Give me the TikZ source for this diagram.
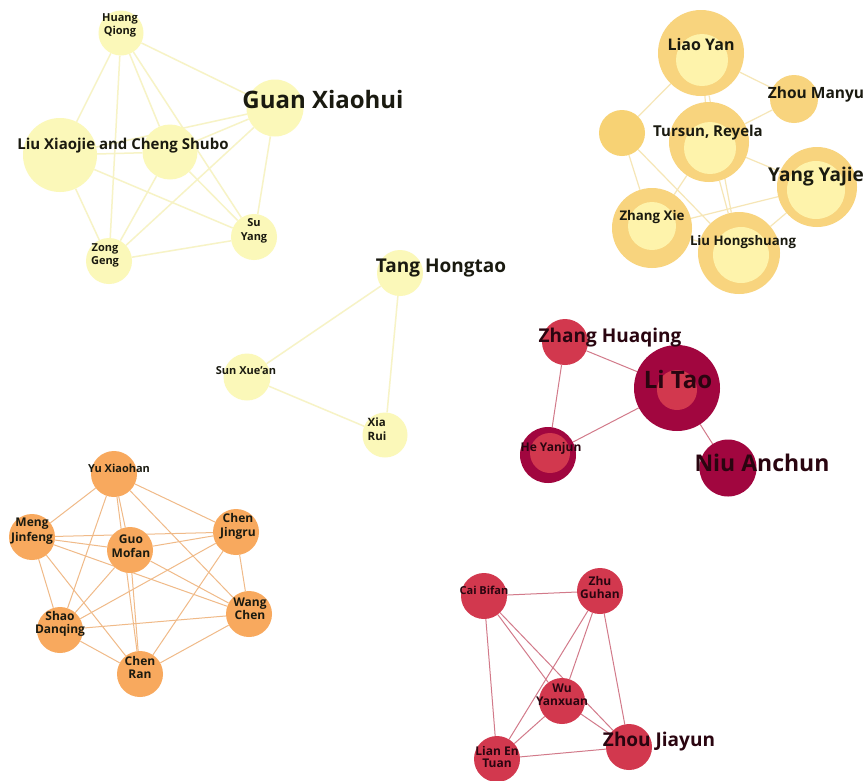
\documentclass[tikz,border=0pt]{standalone}
\usepackage{fontspec}
\setmainfont{Open Sans}
\usetikzlibrary{backgrounds}
\definecolor{paleY}{HTML}{FBF8B9}
\definecolor{edgeY}{HTML}{F7F3C6}
\definecolor{goldO}{HTML}{F8D47E}
\definecolor{goldI}{HTML}{FEF3AB}
\definecolor{goldU}{HTML}{F7D274}
\definecolor{edgeG}{HTML}{F6E6B6}
\definecolor{orangeN}{HTML}{F8A95E}
\definecolor{edgeO}{HTML}{F0BA88}
\definecolor{redN}{HTML}{D2384E}
\definecolor{crimN}{HTML}{A1063F}
\definecolor{edgeR}{HTML}{D27A8A}
\definecolor{txt}{HTML}{1A1A10}
\definecolor{txtR}{HTML}{2A0510}
\tikzset{
  nodedisc/.style={circle, inner sep=0pt, draw=none, minimum size=#1},
  paledisc/.style={nodedisc=#1, fill=paleY},
  golddisc/.style={nodedisc=#1, fill=goldO},
  goldinner/.style={nodedisc=#1, fill=goldI},
  orangedisc/.style={nodedisc=#1, fill=orangeN},
  reddisc/.style={nodedisc=#1, fill=redN},
  crimdisc/.style={nodedisc=#1, fill=crimN},
  lab/.style n args={2}{font=\bfseries\fontsize{#1}{#2}\selectfont, text=txt, align=center, inner sep=0pt},
  rlab/.style n args={2}{lab={#1}{#2}, text=txtR},
  yedge/.style={draw=edgeY, line width=1.5pt},
  gedge/.style={draw=edgeG, line width=1.2pt},
  oedge/.style={draw=edgeO, line width=1pt},
  redge/.style={draw=edgeR, line width=1pt},
}
\begin{document}
\begin{tikzpicture}[x=1pt,y=-1pt]
\useasboundingbox (0,0) rectangle (866,780);
% ---------- top-left cluster ----------
\node[paledisc=45] (hq) at (121,33) {};
\node[paledisc=57] (gx) at (275,108) {};
\node[paledisc=74] (lx) at (60,155) {};
\node[paledisc=55] (cs) at (170,152) {};
\node[paledisc=46] (sy) at (254,237) {};
\node[paledisc=46] (zg) at (109,261) {};
% ---------- middle cluster ----------
\node[paledisc=46] (th) at (400,273) {};
\node[paledisc=47] (sx) at (247,377) {};
\node[paledisc=45] (xr) at (385,435) {};
% ---------- top-right cluster ----------
\node[golddisc=86] (ly) at (701,53) {};
\node[goldinner=52] (lyi) at (702,60) {};
\node[golddisc=48] (zm) at (794,99) {};
\node[nodedisc=46, fill=goldU] (un) at (622,133) {};
\node[golddisc=80] (tr) at (709,142) {};
\node[goldinner=52] (tri) at (710,148) {};
\node[golddisc=80] (yy) at (817,187) {};
\node[goldinner=58] (yyi) at (816,190) {};
\node[golddisc=80] (zx) at (652,228) {};
\node[goldinner=48] (zxi) at (652,226) {};
\node[golddisc=82] (lh) at (739,253) {};
\node[goldinner=56] (lhi) at (741,255) {};
% ---------- Li Tao cluster ----------
\node[reddisc=46] (zh) at (565,342) {};
\node[crimdisc=86] (lt) at (677,388) {};
\node[reddisc=40] (lti) at (677,390) {};
\node[crimdisc=56] (hy) at (548,455) {};
\node[reddisc=40] (hyi) at (550,453) {};
\node[crimdisc=57] (na) at (728,468) {};
% ---------- orange cluster ----------
\node[orangedisc=46] (yx) at (114,474) {};
\node[orangedisc=46] (mj) at (32,537) {};
\node[orangedisc=46] (gm) at (130,550) {};
\node[orangedisc=46] (cj) at (236,532) {};
\node[orangedisc=46] (wc) at (249,614) {};
\node[orangedisc=46] (sd) at (60,630) {};
\node[orangedisc=46] (cr) at (140,674) {};
% ---------- bottom red cluster ----------
\node[reddisc=46] (cb) at (484,596) {};
\node[reddisc=46] (zu) at (600,591) {};
\node[reddisc=46] (wy) at (562,701) {};
\node[reddisc=46] (zj) at (629,747) {};
\node[reddisc=46] (le) at (497,759) {};
% ---------- edges ----------
\begin{pgfonlayer}{background}
\fill[white] (0,0) rectangle (866,780);
\draw[yedge] (hq) -- (lx); \draw[yedge] (hq) -- (zg); \draw[yedge] (hq) -- (cs);
\draw[yedge] (hq) -- (sy); \draw[yedge] (hq) -- (gx);
\draw[yedge] (gx) -- (lx); \draw[yedge] (gx) -- (cs); \draw[yedge] (gx) -- (zg);
\draw[yedge] (gx) -- (sy);
\draw[yedge] (lx) -- (cs); \draw[yedge] (lx) -- (zg); \draw[yedge] (lx) -- (sy);
\draw[yedge] (cs) -- (zg); \draw[yedge] (cs) -- (sy); \draw[yedge] (zg) -- (sy);
\draw[yedge] (th) -- (sx); \draw[yedge] (th) -- (xr); \draw[yedge] (sx) -- (xr);
\draw[gedge] (ly) -- (un); \draw[gedge] (ly) -- (zm); \draw[gedge] (ly) -- (tr);
\draw[gedge] (ly) -- (lh); \draw[gedge] (tr) -- (zm); \draw[gedge] (un) -- (zx);
\draw[gedge] (un) -- (lh); \draw[gedge] (tr) -- (zx); \draw[gedge] (tr) -- (lh);
\draw[gedge] (tr) -- (yy); \draw[gedge] (zx) -- (yy); \draw[gedge] (zx) -- (lh);
\draw[gedge] (lh) -- (yy);
\draw[redge] (zh) -- (lt); \draw[redge] (zh) -- (hy); \draw[redge] (hy) -- (lt);
\draw[redge] (lt) -- (na);
\draw[oedge] (yx) -- (mj); \draw[oedge] (yx) -- (sd); \draw[oedge] (yx) -- (gm);
\draw[oedge] (yx) -- (cr); \draw[oedge] (yx) -- (cj); \draw[oedge] (yx) -- (wc);
\draw[oedge] (mj) -- (gm); \draw[oedge] (mj) -- (cj); \draw[oedge] (mj) -- (wc);
\draw[oedge] (mj) -- (sd); \draw[oedge] (mj) -- (cr);
\draw[oedge] (gm) -- (cj); \draw[oedge] (gm) -- (sd); \draw[oedge] (gm) -- (wc);
\draw[oedge] (gm) -- (cr);
\draw[oedge] (cj) -- (sd); \draw[oedge] (cj) -- (cr); \draw[oedge] (cj) -- (wc);
\draw[oedge] (sd) -- (wc); \draw[oedge] (sd) -- (cr); \draw[oedge] (wc) -- (cr);
\draw[redge] (cb) -- (zu); \draw[redge] (cb) -- (le); \draw[redge] (cb) -- (wy);
\draw[redge] (cb) -- (zj); \draw[redge] (zu) -- (wy); \draw[redge] (zu) -- (le);
\draw[redge] (zu) -- (zj); \draw[redge] (wy) -- (le); \draw[redge] (wy) -- (zj);
\draw[redge] (le) -- (zj);
\end{pgfonlayer}
% ---------- labels ----------
\node[lab={11}{13}] (hql) at (120,25) {Huang\\Qiong};
\node[lab={24}{28}] (gxl) at (323,99) {Guan Xiaohui};
\node[lab={15}{18}] (lxl) at (123,146) {Liu Xiaojie and Cheng Shubo};
\node[lab={11}{14}] (syl) at (254,231) {Su\\Yang};
\node[lab={11}{13}] (zgl) at (105,255) {Zong\\Geng};
\node[lab={19}{22}] (thl) at (441,268) {Tang Hongtao};
\node[lab={11}{13}] (sxl) at (246,371) {Sun Xue'an};
\node[lab={11.5}{14}, align=left] (xrl) at (377,429) {Xia\\Rui};
\node[lab={16}{19}] (lyl) at (701,44) {Liao Yan};
\node[lab={15.5}{19}] (zml) at (816,94) {Zhou Manyu};
\node[lab={15}{18}] (trl) at (708,133) {Tursun, Reyela};
\node[lab={19}{22}] (yyl) at (816,177) {Yang Yajie};
\node[lab={13.3}{16}] (zxl) at (652,217) {Zhang Xie};
\node[lab={13.2}{16}] (lhl) at (743,242) {Liu Hongshuang};
\node[rlab={19}{22}] (zhl) at (610,338) {Zhang Huaqing};
\node[rlab={24}{28}] (ltl) at (678,379) {Li Tao};
\node[rlab={12}{14}] (hyl) at (551,448) {He Yanjun};
\node[rlab={23}{27}] (nal) at (762,463) {Niu Anchun};
\node[lab={11}{13}] (yxl) at (119,468) {Yu Xiaohan};
\node[lab={12}{14.5}] (mjl) at (32,531) {Meng\\Jinfeng};
\node[lab={12}{14}] (gml) at (131,546) {Guo\\Mofan};
\node[lab={12}{14}] (cjl) at (238,526) {Chen\\Jingru};
\node[lab={12}{13}] (wcl) at (250,609) {Wang\\Chen};
\node[lab={12}{13}] (sdl) at (60,624) {Shao\\Danqing};
\node[lab={12}{13}] (crl) at (140,667) {Chen\\Ran};
\node[rlab={11}{13}] (cbl) at (484,590) {Cai Bifan};
\node[rlab={12}{13}] (zul) at (600,587) {Zhu\\Guhan};
\node[rlab={12}{13}] (wyl) at (562,695) {Wu\\Yanxuan};
\node[rlab={19}{22}] (zjl) at (659,742) {Zhou Jiayun};
\node[rlab={12}{12.5}] (lel) at (497,757) {Lian En\\Tuan};
\end{tikzpicture}
\end{document}
